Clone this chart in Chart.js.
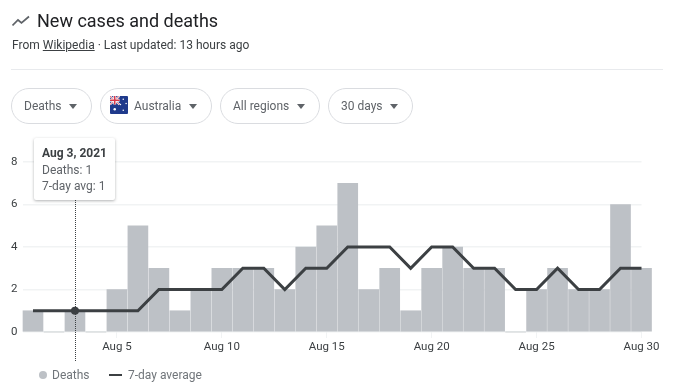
<!DOCTYPE html>
<html lang="en">
<head>
  <meta charset="UTF-8">
  <title>New cases and deaths</title>
  <script src="https://cdn.jsdelivr.net/npm/chart.js"></script>
  <style>
    html, body { margin: 0; padding: 0; background: #fff; }
    body { width: 675px; height: 389px; position: relative; overflow: hidden; font-family: Roboto, sans-serif; }
    #chartBox { position: absolute; left: 0; top: 0; width: 675px; height: 389px; }
    .abs { position: absolute; white-space: nowrap; }
    #title { left: 37px; top: 9px; font-size: 18px; line-height: 24px; color: #202124; }
    #sub { left: 12px; top: 37px; font-size: 12px; line-height: 16px; color: #3c4043; }
    #sub u { color: #3c4043; }
    #rule { left: 11px; top: 69px; width: 652px; height: 1px; background: #e8eaed; }
    .chip { position: absolute; top: 88px; height: 34px; border: 1px solid #dadce0; border-radius: 18px; box-sizing: content-box; font-size: 12px; line-height: 34px; color: #5f6368; }
    .chip span { position: absolute; top: 0; white-space: nowrap; }
    .chip i { position: absolute; top: 15px; width: 0; height: 0; border-left: 4.5px solid transparent; border-right: 4.5px solid transparent; border-top: 5px solid #5f6368; }
    #tip { left: 34px; top: 138px; width: 81px; height: 62px; background: #fff; border-radius: 2px; box-shadow: 0 1px 3px rgba(60,64,67,.4); font-size: 12px; color: #5f6368; z-index: 2; }
    #tip div { position: absolute; left: 8px; line-height: 16px; }
    #tip .head { top: 7px; font-weight: bold; color: #3c4043; }
    .leg { font-size: 12px; line-height: 16px; color: #70757a; top: 367px; }
  </style>
</head>
<body>
  <div id="chartBox"><canvas id="deathsChart"></canvas></div>

  <svg class="abs" style="left:12px;top:12px" width="18" height="18" viewBox="0 0 18 18">
    <path d="M0.5 13.5 L6 8 L9.5 11 L17 4.5" fill="none" stroke="#5f6368" stroke-width="1.7"/>
  </svg>
  <div class="abs" id="title">New cases and deaths</div>
  <div class="abs" id="sub">From <u>Wikipedia</u> · Last updated: 13 hours ago</div>
  <div class="abs" id="rule"></div>

  <div class="chip" style="left:11px;width:79px"><span style="left:12px">Deaths</span><i style="left:57px"></i></div>
  <div class="chip" style="left:100px;width:110px">
    <svg class="abs" style="left:9px;top:7px" width="18" height="18" viewBox="0 0 19 19">
      <rect width="19" height="19" rx="1" fill="#1f3a8c"/>
      <path d="M0 0 L10 9 M10 0 L0 9" stroke="#fff" stroke-width="2"/>
      <path d="M0 0 L10 9 M10 0 L0 9" stroke="#d8384a" stroke-width="0.8"/>
      <path d="M5 0 V9 M0 4.5 H10" stroke="#fff" stroke-width="3"/>
      <path d="M5 0 V9 M0 4.5 H10" stroke="#d8384a" stroke-width="1.6"/>
      <g fill="#fff"><circle cx="5" cy="14" r="1.3"/><circle cx="14" cy="3.5" r="0.8"/><circle cx="14" cy="15" r="0.8"/><circle cx="11" cy="9" r="0.8"/><circle cx="17" cy="8" r="0.8"/></g>
    </svg>
    <span style="left:33px">Australia</span><i style="left:88px"></i></div>
  <div class="chip" style="left:220px;width:98px"><span style="left:12px">All regions</span><i style="left:76px"></i></div>
  <div class="chip" style="left:328px;width:83px"><span style="left:12px">30 days</span><i style="left:61px"></i></div>

  <div class="abs" id="tip">
    <div class="head" id="tipDate"></div>
    <div style="top:24px" id="tipDeaths"></div>
    <div style="top:40px" id="tipAvg"></div>
  </div>

  <svg class="abs" style="left:39px;top:371px" width="8" height="8"><circle cx="4" cy="4" r="4" fill="#bdc1c6"/></svg>
  <div class="abs leg" style="left:52px">Deaths</div>
  <div class="abs" style="left:109px;top:374px;width:13px;height:2px;background:#3c4043"></div>
  <div class="abs leg" style="left:128px">7-day average</div>

  <script>
    // Values
    const days = [1,2,3,4,5,6,7,8,9,10,11,12,13,14,15,16,17,18,19,20,21,22,23,24,25,26,27,28,29,30];
    const deaths = [1,0,1,0,2,5,3,1,2,3,3,3,2,4,5,7,2,3,1,3,4,3,3,0,2,3,2,2,6,3];
    const avg7 = [1,1,1,1,1,1,2,2,2,2,3,3,2,3,3,4,4,4,3,4,4,3,3,2,2,3,2,2,3,3];
    const xTicks = [5,10,15,20,25,30];
    const yTicks = [0,2,4,6,8];
    const hoverDay = 3;

    const hoverIdx = days.indexOf(hoverDay);
    document.getElementById('tipDate').textContent = 'Aug ' + hoverDay + ', 2021';
    document.getElementById('tipDeaths').textContent = 'Deaths: ' + deaths[hoverIdx];
    document.getElementById('tipAvg').textContent = '7-day avg: ' + avg7[hoverIdx];

    // Dotted line under the tooltip
    const hoverLine = {
      id: 'hoverLine',
      afterDatasetsDraw(chart) {
        const x = Math.round(chart.scales.x.getPixelForValue(hoverDay)) + 0.5;
        const c = chart.ctx;
        c.save();
        c.strokeStyle = '#3c4043';
        c.lineWidth = 1;
        c.setLineDash([1, 1]);
        c.beginPath();
        c.moveTo(x, 200);
        c.lineTo(x, 361);
        c.stroke();
        c.restore();
      }
    };

    new Chart(document.getElementById('deathsChart'), {
      data: {
        datasets: [
          {
            type: 'line',
            label: '7-day average',
            data: days.map((d, i) => ({ x: d, y: avg7[i] })),
            borderColor: '#3c4043',
            backgroundColor: '#3c4043',
            borderWidth: 3,
            tension: 0,
            clip: false,
            order: 1,
            pointRadius: ctx => ctx.dataIndex === hoverIdx ? 4 : 0,
            pointBackgroundColor: '#3c4043',
            pointBorderWidth: 0
          },
          {
            type: 'bar',
            label: 'Deaths',
            data: days.map((d, i) => ({ x: d, y: deaths[i] })),
            backgroundColor: '#bdc1c6',
            barThickness: 20,
            clip: false,
            order: 2
          }
        ]
      },
      options: {
        responsive: true,
        maintainAspectRatio: false,
        animation: false,
        events: [],
        layout: { padding: { top: 162, right: 33.5, left: 0, bottom: 0 } },
        plugins: { legend: { display: false }, tooltip: { enabled: false } },
        scales: {
          x: {
            type: 'linear',
            offset: false,
            min: 0.5,
            max: 30,
            afterBuildTicks: s => { s.ticks = xTicks.map(v => ({ value: v })); },
            afterFit: s => { s.height = 57; },
            border: { display: false },
            grid: { offset: false, drawOnChartArea: false, color: '#f1f3f4', tickLength: 6, tickWidth: 1 },
            ticks: {
              padding: 2,
              maxRotation: 0,
              autoSkip: false,
              color: '#3c4043',
              font: { family: 'Roboto', size: 11.5 },
              callback: v => 'Aug ' + v
            }
          },
          y: {
            min: 0,
            max: 8,
            afterBuildTicks: s => { s.ticks = yTicks.map(v => ({ value: v })); },
            afterFit: s => { s.width = 22.5; },
            border: { display: false },
            grid: { color: '#f1f3f4', lineWidth: 1.5, drawTicks: false },
            ticks: {
              padding: 5,
              color: '#3c4043',
              font: { family: 'Roboto', size: 11.5 }
            }
          }
        }
      },
      plugins: [hoverLine]
    });
  </script>
</body>
</html>
